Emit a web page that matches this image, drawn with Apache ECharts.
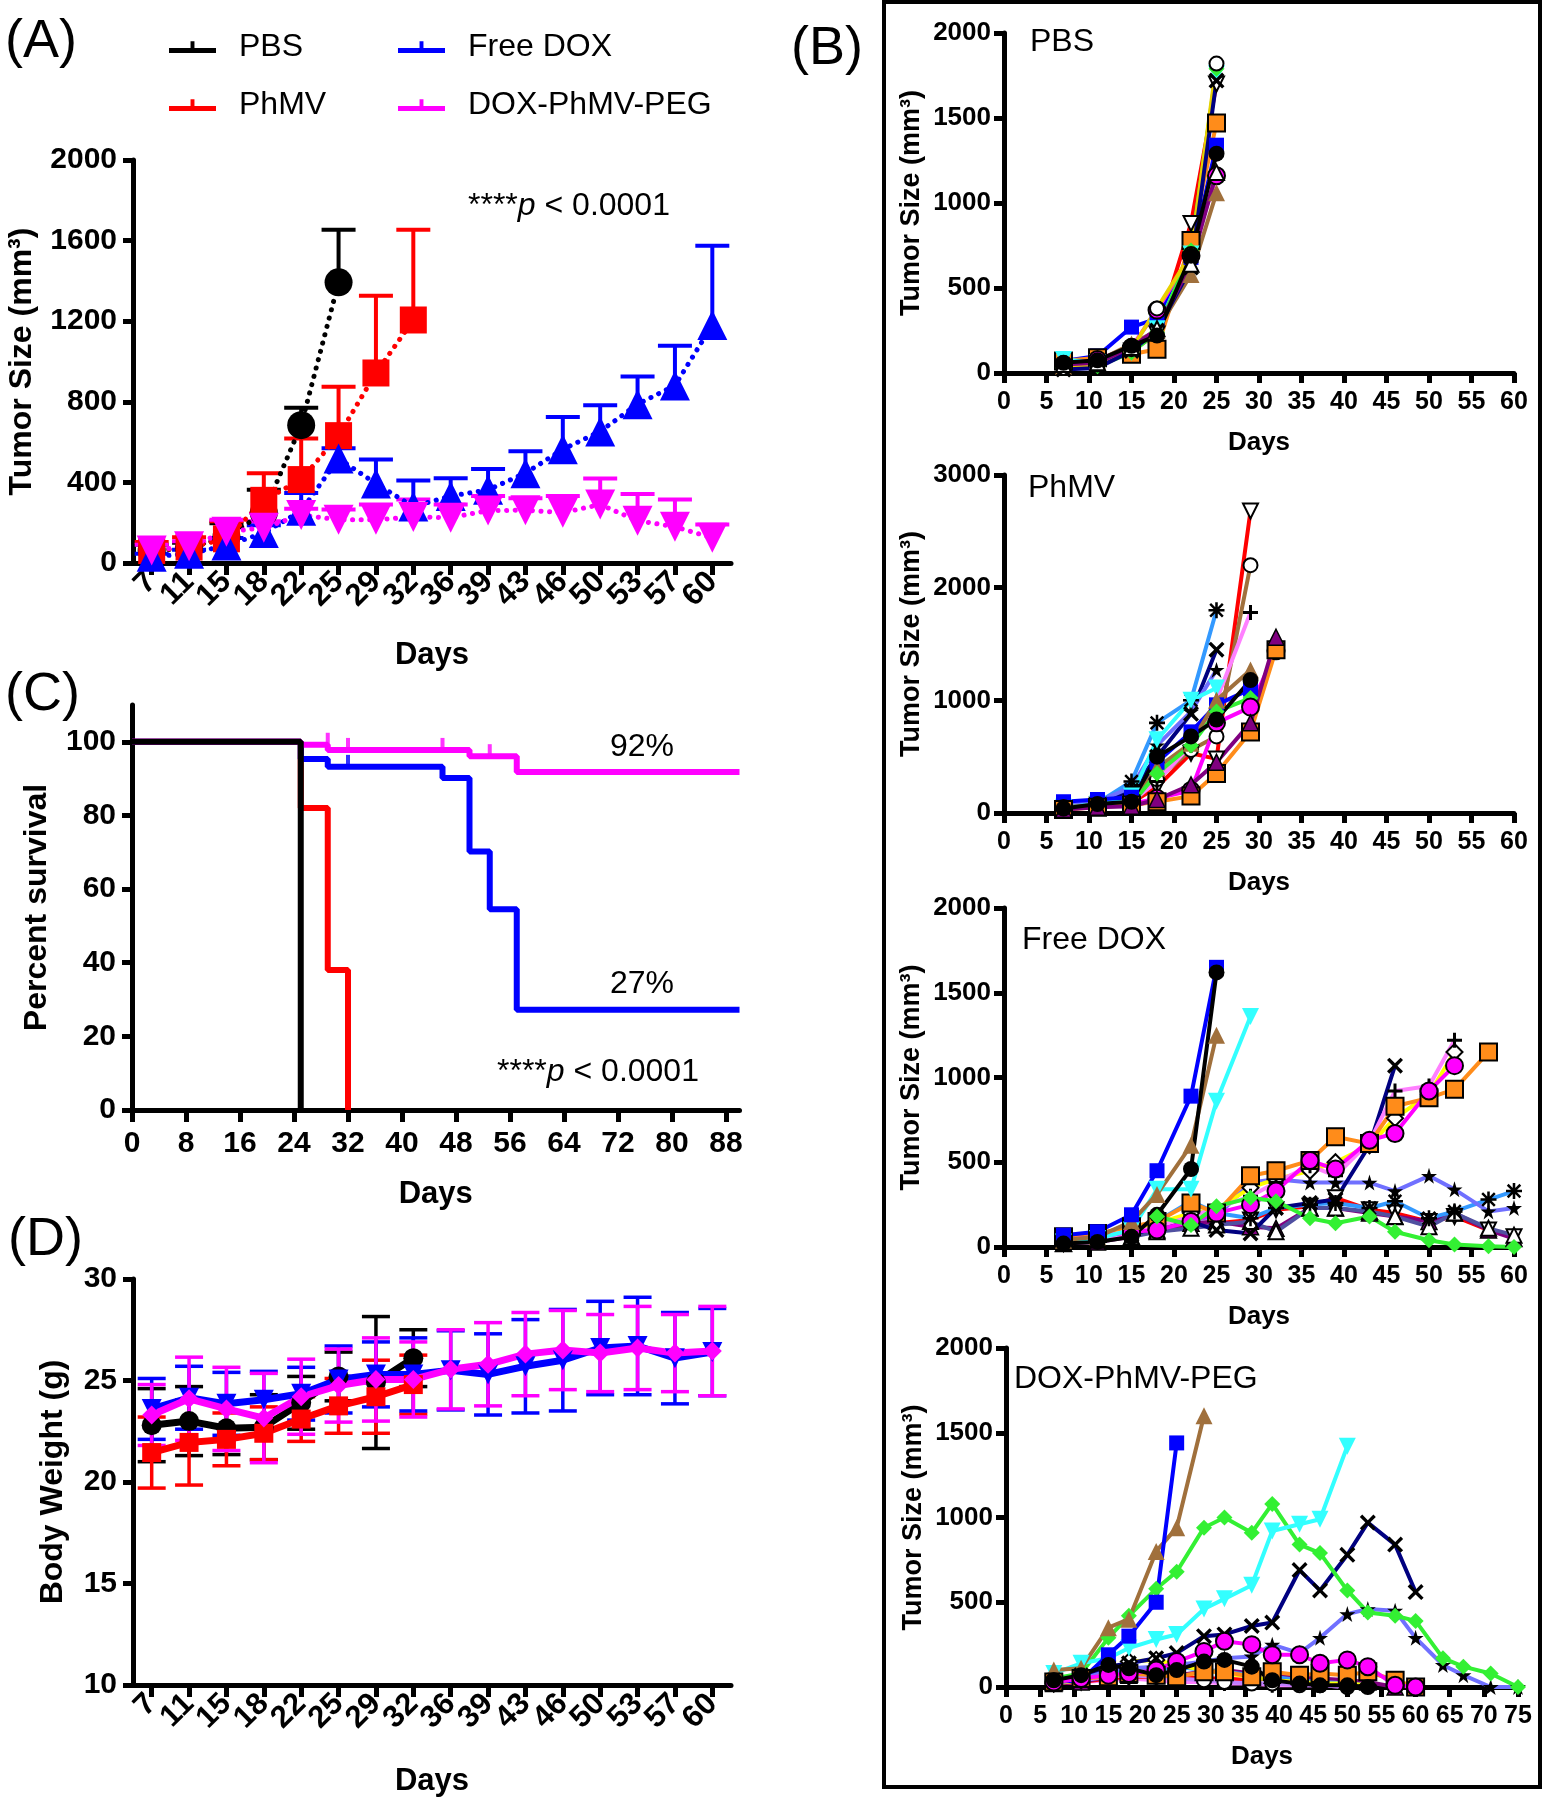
<!DOCTYPE html>
<html><head><meta charset="utf-8">
<script src="https://cdn.jsdelivr.net/npm/echarts@6.0.0/dist/echarts.min.js"></script>
<style>html,body{margin:0;padding:0;background:#fff}#c{width:1543px;height:1800px}</style>
</head><body><div id="c"></div>
<script>
// ---------------- DATA ----------------
const DAYS_A = ['7','11','15','18','22','25','29','32','36','39','43','46','50','53','57','60'];
// Panel A: mean tumor size and upward error (mm3)
const A_PBS_MEAN = [62, 73, 130, 250, 684, 1393];
const A_PBS_ERR  = [28, 27, 67, 113, 87, 261];
const A_PHMV_MEAN = [62, 79, 120, 311, 414, 632, 943, 1206];
const A_PHMV_ERR  = [42, 49, 87, 135, 204, 243, 383, 448];
const A_FREE_MEAN = [31, 46, 87, 149, 259, 518, 394, 280, 332, 363, 446, 564, 653, 788, 881, 1181];
const A_FREE_ERR  = [15, 20, 37, 38, 89, 52, 120, 130, 89, 103, 109, 161, 130, 138, 197, 394];
const A_PEG_MEAN = [62, 83, 155, 175, 238, 215, 215, 228, 225, 260, 262, 250, 290, 210, 180, 125];
const A_PEG_ERR  = [28, 25, 60, 32, 31, 50, 75, 87, 65, 72, 59, 82, 129, 132, 135, 66];

// Panel C: Kaplan-Meier survival (day, percent)
const C_PBS_T = [0, 25];                 const C_PBS_S = [100, 0];
const C_PHMV_T = [0, 25, 29, 32];        const C_PHMV_S = [100, 82, 38, 0];
const C_FREE_T = [0, 25, 29, 46, 50, 53, 57, 90];
const C_FREE_S = [100, 95.3, 93.2, 90.2, 70.2, 54.5, 27.2, 27.2];
const C_PEG_T = [0, 25, 29, 50, 57, 90];
const C_PEG_S = [100, 99.2, 97.8, 96.1, 91.8, 91.8];
const C_PEG_CENS_T = [29, 32, 46, 53];   const C_PEG_CENS_S = [99.2, 97.8, 97.8, 96.1];
const C_FREE_CENS_T = [32];              const C_FREE_CENS_S = [93.2];
const C_X_TICKS = [0, 8, 16, 24, 32, 40, 48, 56, 64, 72, 80, 88];
const C_Y_TICKS = [0, 20, 40, 60, 80, 100];

// Panel D: body weight mean and SD (g)
const D_PBS_MEAN = [22.8, 23.0, 22.65, 22.7, 23.9, 25.2, 24.9, 26.1];
const D_PBS_SD   = [1.8, 1.7, 1.3, 1.6, 1.3, 1.2, 3.25, 1.4];
const D_PHMV_MEAN = [21.45, 21.95, 22.1, 22.4, 23.1, 23.75, 24.2, 24.8];
const D_PHMV_SD   = [1.75, 2.1, 1.3, 1.3, 1.1, 1.35, 1.8, 1.45];
const D_FREE_MEAN = [23.6, 24.15, 23.85, 24.05, 24.35, 25.05, 25.3, 25.3, 25.5, 25.3, 25.7, 26.0, 26.6, 26.7, 26.1, 26.4];
const D_FREE_SD   = [1.5, 1.55, 1.55, 1.4, 1.3, 1.65, 1.6, 1.8, 1.95, 2.0, 2.3, 2.5, 2.3, 2.4, 2.25, 2.15];
const D_PEG_MEAN = [23.3, 24.1, 23.6, 23.15, 24.2, 24.75, 25.05, 25.05, 25.55, 25.8, 26.3, 26.5, 26.35, 26.6, 26.35, 26.45];
const D_PEG_SD   = [1.5, 2.05, 2.05, 2.2, 1.85, 1.8, 2.05, 1.85, 1.95, 2.05, 2.05, 1.95, 1.9, 2.05, 1.9, 2.2];

// Panel B: individual mice
const B_PBS_DAYS = [7, 11, 15, 18, 22, 25];
const B_PBS_MICE = [
  [40, 60, 130, 230, 880, 1700],
  [70, 100, 270, 320, 680, 1340],
  [70, 90, 110, 140, 780, 1470],
  [80, 60, 120, 260, 700, 1760],
  [50, 80, 150, 370, 690, 1160],
  [40, 70, 170, 250, 580, 1060],
  [30, 40, 120, 240, 720, 1790],
  [30, 50, 140, 380, 700, 1820],
  [20, 30, 130, 250, 620, 1720],
  [50, 60, 150, 260, 640, 1180],
  [60, 75, 160, 220, 690, 1290]
];
const B_PBS_KEYS = ['redOTD','bluSq','orgSq','cyaTD','magCi','brnTU','grnDi','yelOC','navX','purOTU','blkCi'];

const B_PHMV_DAYS = [7, 11, 15, 18, 22, 25, 29, 32];
const B_PHMV_MICE = [
  [40, 70, 90, 230, 530, 480, 2680, null],
  [30, 60, 80, 300, 560, 680, 2200, null],
  [50, 70, 100, 280, 600, 1000, 1780, null],
  [60, 90, 280, 800, 1000, 1800, null, null],
  [50, 90, 200, 500, 880, 1450, null, null],
  [60, 100, 230, 600, 900, 1270, null, null],
  [50, 80, 150, 650, 1000, 1110, null, null],
  [100, 120, 140, 450, 720, 960, 1100, null],
  [50, 70, 90, 400, 620, 1000, 1270, null],
  [30, 60, 80, 350, 600, 900, 1020, null],
  [40, 60, 80, 130, 200, 800, 940, 1440],
  [30, 50, 70, 100, 150, 350, 720, 1450],
  [30, 50, 60, 120, 250, 450, 800, 1560],
  [40, 80, 100, 500, 680, 830, 1180, null]
];
const B_PHMV_KEYS = ['redOTD','brnOC','vioPl','dodAst','navX','slaSt','cyaTD','bluSq','brnTU','grnDi','magCi','orgSq','purTU','blkCi'];

const B_FREE_DAYS = [7, 11, 15, 18, 22, 25, 29, 32, 36, 39, 43, 46, 50, 53, 57, 60];
const B_FREE_MICE = [
  [20, 40, 70, 110, 120, 140, 160, 220, 240, 290, 220, 200, 150, 180, 100, 60],
  [20, 30, 60, 100, 140, 150, 120, 110, 230, 230, 200, 180, 150, 200, 100, 50],
  [20, 40, 60, 90, 110, 130, 150, 90, 230, 230, 210, 180, 120, 200, 110, 70],
  [30, 50, 80, 150, 270, 200, 170, 230, 250, 260, 230, 270, 170, 210, 280, 330],
  [30, 50, 90, 140, 160, 180, 380, 400, 380, 380, 380, 330, 420, 340, 210, 230],
  [20, 40, 70, 120, 150, 100, 80, 230, 260, 280, 600, 1070, null, null, null, null],
  [30, 50, 80, 140, 200, 220, 350, 400, 450, 500, 600, 760, 900, 1150, null, null],
  [30, 50, 80, 120, 180, 230, 300, 380, 480, 420, 620, 920, 950, 1220, null, null],
  [60, 80, 120, 150, 260, 200, 420, 450, 510, 650, 610, 830, 880, 930, 1150, null],
  [40, 60, 90, 100, 150, 200, 250, 330, 510, 460, 630, 670, 920, 1070, null, null],
  [30, 50, 100, 340, 340, 860, 1360, null, null, null, null, null, null, null, null, null],
  [40, 60, 150, 310, 600, 1250, null, null, null, null, null, null, null, null, null, null],
  [70, 90, 190, 450, 890, 1650, null, null, null, null, null, null, null, null, null, null],
  [20, 30, 60, 190, 460, 1620, null, null, null, null, null, null, null, null, null, null],
  [null, null, null, 180, 130, 240, 290, 270, 170, 140, 180, 90, 40, 15, 5, 0]
];
const B_FREE_KEYS = ['redOTD','purTU','grayOTU','dodAst','slaSt','navX','yelODi','vioPl','orgSq','magCi','cyaTD','brnTU','bluSq','blkCi','grnDi'];

const B_PEG_DAYS = [7, 11, 15, 18, 22, 25, 29, 32, 36, 39, 43, 46, 50, 53, 57, 60, 64, 67, 71, 75];
const B_PEG_MICE = [
  [20, 30, 40, 50, 40, 30, 30, 20, 20, 10, 10, 10, 0, null, null, null, null, null, null, null],
  [20, 30, 50, 60, 60, 60, 50, 50, 40, 60, 50, 40, 30, 20, null, null, null, null, null, null],
  [20, 30, 60, 70, 80, 70, 90, 100, 80, 70, 60, 50, 40, 30, 0, null, null, null, null, null],
  [30, 40, 80, 90, 100, 120, 100, 90, 70, 60, 40, 30, 20, 10, null, null, null, null, null, null],
  [20, 40, 100, 150, 160, 130, 100, 80, 60, 40, 30, 20, 20, 10, null, null, null, null, null, null],
  [30, 40, 60, 70, 60, 50, 40, 30, 20, 20, 10, 10, 0, null, null, null, null, null, null, null],
  [50, 60, 100, 110, 120, 130, 150, 170, 180, 250, 200, 290, 430, 460, 450, 290, 130, 70, 0, 0],
  [40, 70, 120, 140, 170, 200, 300, 310, 360, 380, 690, 570, 780, 970, 840, 560, null, null, null, null],
  [50, 80, 290, 420, 580, 680, 940, 1000, 910, 1080, 840, 790, 570, 440, 420, 390, 170, 120, 80, 0],
  [80, 140, 170, 230, 280, 310, 460, 520, 600, 920, 960, 990, 1420, null, null, null, null, null, null, null],
  [100, 110, 350, 400, 800, 940, 1600, null, null, null, null, null, null, null, null, null, null, null, null, null],
  [30, 40, 190, 300, 500, 1440, null, null, null, null, null, null, null, null, null, null, null, null, null, null],
  [30, 50, 60, 80, 70, 60, 90, 90, 60, 90, 70, 80, 70, 90, 40, 0, null, null, null, null],
  [30, 50, 70, 80, 100, 150, 210, 270, 250, 190, 190, 140, 160, 120, 10, 0, null, null, null, null],
  [40, 70, 130, 110, 70, 100, 150, 160, 120, 40, 20, 10, 10, 0, null, null, null, null, null, null]
];
const B_PEG_KEYS = ['vioPl','redOTD','purTU','dodAst','yelODi','grayOC','slaSt','navX','grnDi','cyaTD','brnTU','bluSq','orgSq','magCi','blkCi'];

// ---------------- STYLE ----------------
const FONT = '"Liberation Sans", Arial, Helvetica, sans-serif';
const SYM_X = 'path://M1.5,0 L5,3.5 L8.5,0 L10,1.5 L6.5,5 L10,8.5 L8.5,10 L5,6.5 L1.5,10 L0,8.5 L3.5,5 L0,1.5 Z';
const SYM_PLUS = 'path://M4,0 L6,0 L6,4 L10,4 L10,6 L6,6 L6,10 L4,10 L4,6 L0,6 L0,4 L4,4 Z';
const SYM_STAR = 'path://M5,0 L6.18,3.62 L10,3.62 L6.91,5.86 L8.09,9.5 L5,7.25 L1.91,9.5 L3.09,5.86 L0,3.62 L3.82,3.62 Z';
const SYM_AST = 'path://M4.2,0 L5.8,0 L5.8,4.2 L10,4.2 L10,5.8 L5.8,5.8 L5.8,10 L4.2,10 L4.2,5.8 L0,5.8 L0,4.2 L4.2,4.2 Z M1.6,0.5 L5,3.9 L8.4,0.5 L9.5,1.6 L6.1,5 L9.5,8.4 L8.4,9.5 L5,6.1 L1.6,9.5 L0.5,8.4 L3.9,5 L0.5,1.6 Z';
const LEG_ICON = 'path://M0,7 L48,7 L48,12 L0,12 Z M22,0 L26,0 L26,7 L22,7 Z';

const STYLE_LIB = {
  blkCi:  {line:'#000000', symbol:'circle', fill:'#000000', size:16},
  bluSq:  {line:'#0000FF', symbol:'rect', fill:'#0000FF', size:15},
  orgSq:  {line:'#FF8C1A', symbol:'rect', fill:'#FF8C1A', border:'#000', bw:2, size:17},
  cyaTD:  {line:'#33FFFF', symbol:'triangle', rotate:180, fill:'#33FFFF', size:17},
  magCi:  {line:'#FF00FF', symbol:'circle', fill:'#FF00FF', border:'#000', bw:2, size:17},
  brnTU:  {line:'#A0703C', symbol:'triangle', fill:'#A0703C', size:17},
  grnDi:  {line:'#33F033', symbol:'diamond', fill:'#33F033', size:16},
  redOTD: {line:'#FF0000', symbol:'emptyTriangle', rotate:180, fill:'#000', bw:2.5, size:15},
  yelOC:  {line:'#E8D000', symbol:'emptyCircle', fill:'#000', bw:2.5, size:14},
  brnOC:  {line:'#A0703C', symbol:'emptyCircle', fill:'#000', bw:2.5, size:14},
  grayOC: {line:'#C080FF', symbol:'emptyCircle', fill:'#000', bw:2.5, size:14},
  yelODi: {line:'#FFFF00', symbol:'emptyDiamond', fill:'#000', bw:2.5, size:16},
  navX:   {line:'#000080', symbol:SYM_X, fill:'#000', size:16},
  purOTU: {line:'#800080', symbol:'emptyTriangle', fill:'#000', bw:2.5, size:15},
  grayOTU:{line:'#5050A0', symbol:'emptyTriangle', fill:'#000', bw:2.5, size:15},
  purTU:  {line:'#800080', symbol:'triangle', fill:'#800080', border:'#000', bw:1.5, size:16},
  vioPl:  {line:'#FF80FF', symbol:SYM_PLUS, fill:'#000', size:15},
  dodAst: {line:'#3399FF', symbol:SYM_AST, fill:'#000', size:16},
  slaSt:  {line:'#7070FF', symbol:SYM_STAR, fill:'#000', size:16}
};

// ---------------- HELPERS ----------------
const plain = function (v) { return String(v); };
function xAxisOf(gi, o) {
  return {
    gridIndex: gi, type: o.type, data: o.data, min: o.min, max: o.max, interval: o.interval,
    boundaryGap: o.boundaryGap,
    name: 'Days', nameLocation: 'middle', nameGap: o.nameGap, nameMoveOverlap: false,
    nameTextStyle: {fontSize: o.nameSize, fontWeight: 'bold', fontFamily: FONT, color: '#000'},
    axisLine: {show: true, onZero: false, lineStyle: {color: '#000', width: 5}},
    axisTick: {show: true, alignWithLabel: true, length: o.tickLen || 12, lineStyle: {color: '#000', width: 5}, customValues: o.custom},
    axisLabel: {show: true, interval: 0, rotate: o.rotate || 0, margin: o.margin, fontSize: o.fs, fontWeight: 'bold', fontFamily: FONT, color: '#000', customValues: o.custom, hideOverlap: false, formatter: plain},
    splitLine: {show: false}
  };
}
function yAxisOf(gi, o) {
  return {
    gridIndex: gi, type: 'value', min: o.min, max: o.max, interval: o.interval,
    name: o.name, nameLocation: 'middle', nameGap: o.nameGap, nameMoveOverlap: false,
    nameTextStyle: {fontSize: o.nameSize, fontWeight: 'bold', fontFamily: FONT, color: '#000'},
    axisLine: {show: true, onZero: false, lineStyle: {color: '#000', width: 5}},
    axisTick: {show: true, length: o.tickLen || 10, lineStyle: {color: '#000', width: 5}, customValues: o.custom},
    axisLabel: {show: true, margin: o.margin, fontSize: o.fs, fontWeight: 'bold', fontFamily: FONT, color: '#000', customValues: o.custom, formatter: plain},
    splitLine: {show: false}
  };
}
function errBars(gi, means, errs, color, both, halfCap, lw) {
  return {
    type: 'custom', xAxisIndex: gi, yAxisIndex: gi, z: 2, silent: true,
    data: means.map((m, i) => [i, m, errs[i]]),
    encode: {x: 0, y: 1},
    renderItem: function (params, api) {
      const x = api.value(0), m = api.value(1), e = api.value(2);
      const top = api.coord([x, m + e]);
      const bot = api.coord([x, both ? m - e : m]);
      const st = {stroke: color, lineWidth: lw};
      const ch = [
        {type: 'line', shape: {x1: top[0], y1: top[1], x2: bot[0], y2: bot[1]}, style: st},
        {type: 'line', shape: {x1: top[0] - halfCap, y1: top[1], x2: top[0] + halfCap, y2: top[1]}, style: st}
      ];
      if (both) ch.push({type: 'line', shape: {x1: bot[0] - halfCap, y1: bot[1], x2: bot[0] + halfCap, y2: bot[1]}, style: st});
      return {type: 'group', children: ch};
    }
  };
}
function meanLine(gi, name, data, color, symbol, size, lineStyle, rot) {
  return {
    name: name, type: 'line', xAxisIndex: gi, yAxisIndex: gi, data: data, z: 3,
    symbol: symbol, symbolSize: size, symbolRotate: rot || 0, showAllSymbol: true,
    itemStyle: {color: color}, lineStyle: Object.assign({color: color}, lineStyle),
    silent: true
  };
}
function pairs(ts, vs) { return ts.map((t, i) => [t, vs[i]]); }
function bSeries(gi, days, mice, keys) {
  return mice.map((vals, k) => {
    const st = STYLE_LIB[keys[k]];
    const data = [];
    vals.forEach((v, i) => { if (v !== null) data.push([days[i], v]); });
    return {
      type: 'line', xAxisIndex: gi, yAxisIndex: gi, data: data, z: 2, silent: true,
      symbol: st.symbol, symbolSize: st.size, symbolRotate: st.rotate || 0,
      itemStyle: {color: st.fill, borderColor: st.border || st.fill, borderWidth: st.bw || 0},
      lineStyle: {color: st.line, width: 4}
    };
  });
}

const DOT = {width: 5, type: [0.1, 8.5], cap: 'round'};
const SOLID6 = {width: 7};

const series = [];
// Panel A
series.push(errBars(0, A_PBS_MEAN, A_PBS_ERR, '#000', false, 17, 4));
series.push(meanLine(0, 'PBS', A_PBS_MEAN, '#000000', 'circle', 28, DOT));
series.push(errBars(0, A_PHMV_MEAN, A_PHMV_ERR, '#FF0000', false, 17, 4));
series.push(meanLine(0, 'PhMV', A_PHMV_MEAN, '#FF0000', 'rect', 27, DOT));
series.push(errBars(0, A_FREE_MEAN, A_FREE_ERR, '#0000FF', false, 17, 4));
series.push(meanLine(0, 'Free DOX', A_FREE_MEAN, '#0000FF', 'triangle', 30, DOT));
series.push(errBars(0, A_PEG_MEAN, A_PEG_ERR, '#FF00FF', false, 17, 4));
series.push(meanLine(0, 'DOX-PhMV-PEG', A_PEG_MEAN, '#FF00FF', 'triangle', 30, DOT, 180));
// Panel C
function km(name, ts, vs, color) {
  return {name: name, type: 'line', step: 'end', xAxisIndex: 1, yAxisIndex: 1, data: pairs(ts, vs), symbol: 'none',
    lineStyle: {color: color, width: 6}, itemStyle: {color: color}, z: 3, silent: true};
}
series.push(km('PhMV', C_PHMV_T, C_PHMV_S, '#FF0000'));
series.push(km('Free DOX', C_FREE_T, C_FREE_S, '#0000FF'));
series.push(km('DOX-PhMV-PEG', C_PEG_T, C_PEG_S, '#FF00FF'));
series.push(km('PBS', C_PBS_T, C_PBS_S, '#000000'));
series.push({type: 'scatter', xAxisIndex: 1, yAxisIndex: 1, data: pairs(C_PEG_CENS_T, C_PEG_CENS_S), symbol: 'rect', symbolSize: [4, 12], symbolOffset: [0, -6], itemStyle: {color: '#FF00FF'}, z: 3, silent: true});
series.push({type: 'scatter', xAxisIndex: 1, yAxisIndex: 1, data: pairs(C_FREE_CENS_T, C_FREE_CENS_S), symbol: 'rect', symbolSize: [4, 12], symbolOffset: [0, -6], itemStyle: {color: '#0000FF'}, z: 3, silent: true});
// Panel D
series.push(errBars(2, D_PBS_MEAN, D_PBS_SD, '#000', true, 14, 3.5));
series.push(meanLine(2, 'PBS', D_PBS_MEAN, '#000000', 'circle', 20, SOLID6));
series.push(errBars(2, D_PHMV_MEAN, D_PHMV_SD, '#FF0000', true, 14, 3.5));
series.push(meanLine(2, 'PhMV', D_PHMV_MEAN, '#FF0000', 'rect', 19, SOLID6));
series.push(errBars(2, D_FREE_MEAN, D_FREE_SD, '#0000FF', true, 14, 3.5));
series.push(meanLine(2, 'Free DOX', D_FREE_MEAN, '#0000FF', 'triangle', 20, SOLID6, 180));
series.push(errBars(2, D_PEG_MEAN, D_PEG_SD, '#FF00FF', true, 14, 3.5));
series.push(meanLine(2, 'DOX-PhMV-PEG', D_PEG_MEAN, '#FF00FF', 'diamond', 19, SOLID6));
// Panel B
bSeries(3, B_PBS_DAYS, B_PBS_MICE, B_PBS_KEYS).forEach(s => series.push(s));
bSeries(4, B_PHMV_DAYS, B_PHMV_MICE, B_PHMV_KEYS).forEach(s => series.push(s));
bSeries(5, B_FREE_DAYS, B_FREE_MICE, B_FREE_KEYS).forEach(s => series.push(s));
bSeries(6, B_PEG_DAYS, B_PEG_MICE, B_PEG_KEYS).forEach(s => series.push(s));

const TUMOR = 'Tumor Size (mm\u00B3)';
const legendText = {fontSize: 32, fontFamily: FONT, color: '#000', lineHeight: 34, padding: [0, 0, 0, 18]};
function txt(x, y, text, size, extra) {
  return Object.assign({type: 'text', x: x, y: y, silent: true,
    style: {text: text, font: 'normal ' + size + 'px ' + FONT, fill: '#000', align: 'left', verticalAlign: 'middle'}}, extra || {});
}
function pText(x, y) {
  return {type: 'text', x: x, y: y, silent: true, style: {
    text: '{s|****}{p|p}{n| < 0.0001}', fill: '#000', align: 'left', verticalAlign: 'middle',
    rich: {s: {fontSize: 32, fontFamily: FONT, fill: '#000'}, p: {fontSize: 32, fontFamily: FONT, fontStyle: 'italic', fill: '#000'}, n: {fontSize: 32, fontFamily: FONT, fill: '#000'}}
  }};
}

const option = {
  animation: false,
  backgroundColor: '#ffffff',
  grid: [
    {left: 133, top: 160, width: 598, height: 403, outerBoundsMode: 'none'},
    {left: 132, top: 705, width: 607.5, height: 405, outerBoundsMode: 'none'},
    {left: 133, top: 1279, width: 598, height: 406, outerBoundsMode: 'none'},
    {left: 1004, top: 33, width: 510, height: 340, outerBoundsMode: 'none'},
    {left: 1004, top: 475, width: 510, height: 338, outerBoundsMode: 'none'},
    {left: 1004, top: 908, width: 510, height: 339, outerBoundsMode: 'none'},
    {left: 1006, top: 1348, width: 512, height: 339, outerBoundsMode: 'none'}
  ],
  xAxis: [
    xAxisOf(0, {type: 'category', data: DAYS_A, boundaryGap: true, rotate: 45, fs: 31, margin: 14, nameGap: 77, nameSize: 31}),
    xAxisOf(1, {type: 'value', min: 0, max: 90, custom: C_X_TICKS, fs: 30, margin: 19, nameGap: 69, nameSize: 31}),
    xAxisOf(2, {type: 'category', data: DAYS_A, boundaryGap: true, rotate: 45, fs: 31, margin: 14, nameGap: 81, nameSize: 31}),
    xAxisOf(3, {type: 'value', min: 0, max: 60, interval: 5, fs: 25, margin: 17, nameGap: 57, nameSize: 26, tickLen: 10}),
    xAxisOf(4, {type: 'value', min: 0, max: 60, interval: 5, fs: 25, margin: 17, nameGap: 57, nameSize: 26, tickLen: 10}),
    xAxisOf(5, {type: 'value', min: 0, max: 60, interval: 5, fs: 25, margin: 17, nameGap: 57, nameSize: 26, tickLen: 10}),
    xAxisOf(6, {type: 'value', min: 0, max: 75, interval: 5, fs: 25, margin: 17, nameGap: 57, nameSize: 26, tickLen: 10})
  ],
  yAxis: [
    yAxisOf(0, {min: 0, max: 2000, interval: 400, name: TUMOR, nameGap: 95, nameSize: 32, fs: 30, margin: 16}),
    yAxisOf(1, {min: 0, max: 110, custom: C_Y_TICKS, name: 'Percent survival', nameGap: 79, nameSize: 32, fs: 30, margin: 16}),
    yAxisOf(2, {min: 10, max: 30, interval: 5, name: 'Body Weight (g)', nameGap: 64, nameSize: 32, fs: 30, margin: 16}),
    yAxisOf(3, {min: 0, max: 2000, interval: 500, name: TUMOR, nameGap: 79, nameSize: 27, fs: 26, margin: 13}),
    yAxisOf(4, {min: 0, max: 3000, interval: 1000, name: TUMOR, nameGap: 79, nameSize: 27, fs: 26, margin: 13}),
    yAxisOf(5, {min: 0, max: 2000, interval: 500, name: TUMOR, nameGap: 79, nameSize: 27, fs: 26, margin: 13}),
    yAxisOf(6, {min: 0, max: 2000, interval: 500, name: TUMOR, nameGap: 79, nameSize: 27, fs: 26, margin: 13})
  ],
  legend: [
    {data: ['PBS', 'PhMV'], orient: 'vertical', left: 164, top: 25, itemWidth: 47, itemHeight: 12, itemGap: 24,
     icon: LEG_ICON, textStyle: legendText, selectedMode: false},
    {data: ['Free DOX', 'DOX-PhMV-PEG'], orient: 'vertical', left: 393, top: 25, itemWidth: 47, itemHeight: 12, itemGap: 24,
     icon: LEG_ICON, textStyle: legendText, selectedMode: false}
  ],
  graphic: [
    {type: 'rect', silent: true, shape: {x: 884, y: 2, width: 656, height: 1785}, style: {fill: 'none', stroke: '#000', lineWidth: 4}},
    txt(5, 42, '(A)', 54),
    txt(791, 49, '(B)', 54),
    txt(5, 695, '(C)', 54),
    txt(8, 1240, '(D)', 54),
    txt(1030, 42, 'PBS', 32),
    txt(1028, 488, 'PhMV', 32),
    txt(1022, 940, 'Free DOX', 32),
    txt(1014, 1379, 'DOX-PhMV-PEG', 32),
    txt(610, 747, '92%', 32),
    txt(610, 984, '27%', 32),
    pText(468, 206),
    pText(497, 1072)
  ],
  series: series
};

const chart = echarts.init(document.getElementById('c'), null, {renderer: 'canvas', width: 1543, height: 1800});
chart.setOption(option);
</script></body></html>
